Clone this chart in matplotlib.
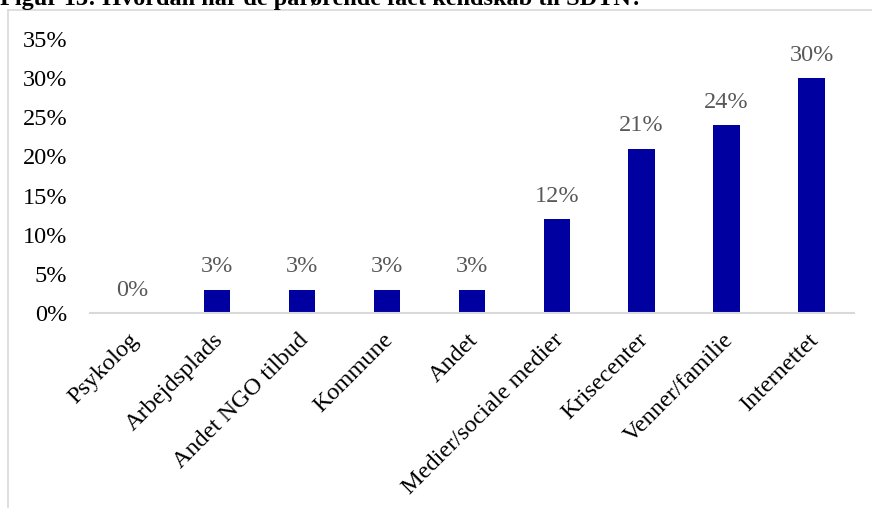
import matplotlib
matplotlib.use("Agg")
import matplotlib.pyplot as plt
from matplotlib.lines import Line2D
from matplotlib.ticker import FuncFormatter

# data
kategorier = ["Psykolog", "Arbejdsplads", "Andet NGO tilbud", "Kommune", "Andet",
	"Medier/sociale medier", "Krisecenter", "Venner/familie", "Internettet"]
andele = [0, 3, 3, 3, 3, 12, 21, 24, 30]
yticks = [0, 5, 10, 15, 20, 25, 30, 35]
titel = "Figur 13: Hvordan har de pårørende fået kendskab til SDTN?"

plt.rcParams['font.family'] = ['Liberation Serif', 'DejaVu Serif']
fs = 17.5

W, H = 872, 508
fig = plt.figure(figsize=(W / 100, H / 100), dpi=100)

# chart frame (left and top edge visible)
fig.add_artist(Line2D([8 / W, 8 / W], [0, 1 - 10 / H], color="#d9d9d9", lw=1.2))
fig.add_artist(Line2D([8 / W, 1], [1 - 10 / H, 1 - 10 / H], color="#d9d9d9", lw=1.2))

fig.text(0 / W, 1 - 5 / H, titel, fontsize=fs, fontweight="bold", ha="left", va="baseline")

ax = fig.add_axes([89.5 / W, 195 / H, (854 - 89.5) / W, (469 - 195) / H])

x = list(range(len(kategorier)))
bars = ax.bar(x, andele, width=0.31, color="#0000a0", zorder=2)

for xi, v in zip(x, andele):
	ax.annotate(f"{v}%", (xi, v), xytext=(0, 9), textcoords="offset points",
		ha="center", va="bottom", fontsize=fs, color="#595959")

ax.set_xlim(-0.5, len(kategorier) - 0.5)
ax.set_ylim(0, 35)
ax.set_yticks(yticks)
ax.yaxis.set_major_formatter(FuncFormatter(lambda v, p: f"{v:.0f}%"))
ax.set_xticks(x)
ax.set_xticklabels([])

# slanted category labels, drawn by hand so they can sit a bit left of the tick
for xi, navn in zip(x, kategorier):
	ax.annotate(navn, (xi, 0), xycoords=("data", "axes fraction"),
		xytext=(-2.9, -11.8), textcoords="offset points",
		rotation=45, ha="right", va="top", rotation_mode="anchor",
		fontsize=fs, color="black")

for s in ["top", "right", "left"]:
	ax.spines[s].set_visible(False)
ax.spines["bottom"].set_color("#d9d9d9")
ax.spines["bottom"].set_linewidth(1.5)
ax.tick_params(axis="both", length=0, labelsize=fs, colors="black")
ax.tick_params(axis="y", pad=16)

fig.savefig("out.png", dpi=100)
